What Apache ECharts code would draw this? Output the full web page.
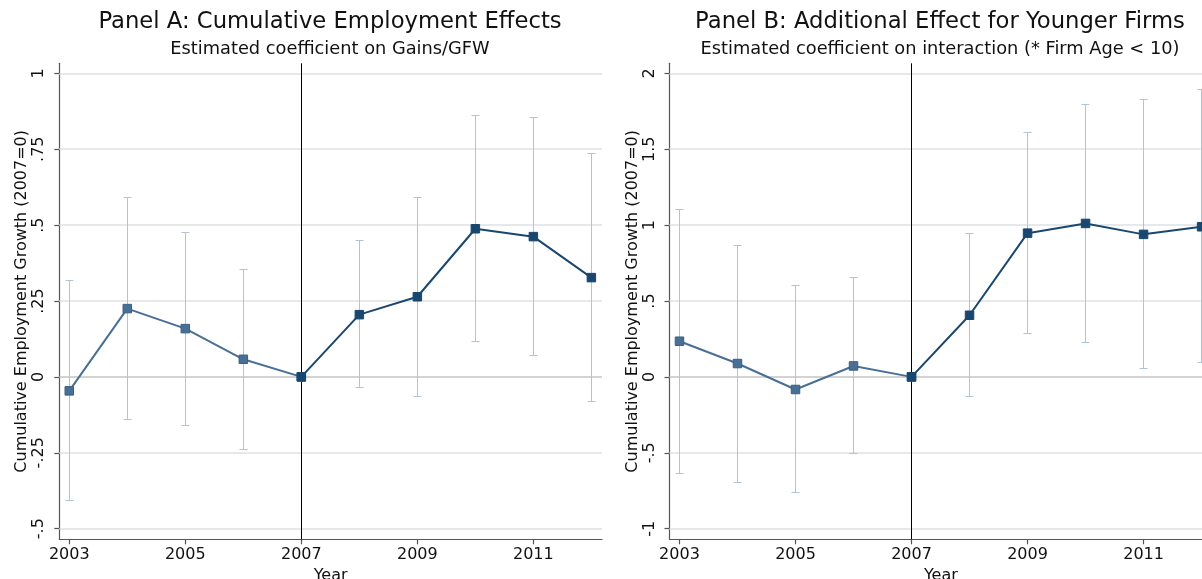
<!DOCTYPE html>
<html>
<head>
<meta charset="utf-8">
<script src="https://cdn.jsdelivr.net/npm/echarts@6/dist/echarts.min.js"></script>
<style>html,body{margin:0;padding:0;background:#fff;overflow:hidden}#c{width:1216px;height:579px}</style>
</head>
<body>
<div id="c"></div>
<script>
const years = [2003, 2004, 2005, 2006, 2007, 2008, 2009, 2010, 2011, 2012];
const xTicks = [2003, 2005, 2007, 2009, 2011];
const aCoef = [-0.046, 0.225, 0.159, 0.058, 0, 0.205, 0.264, 0.488, 0.462, 0.327];
const aLo = [-0.408, -0.140, -0.159, -0.238, 0, -0.036, -0.063, 0.115, 0.071, -0.080];
const aHi = [0.319, 0.592, 0.476, 0.355, 0, 0.450, 0.592, 0.861, 0.854, 0.735];
const bCoef = [0.235, 0.088, -0.083, 0.072, 0, 0.406, 0.947, 1.011, 0.939, 0.989];
const bLo = [-0.634, -0.695, -0.761, -0.506, 0, -0.132, 0.285, 0.226, 0.053, 0.095];
const bHi = [1.105, 0.868, 0.601, 0.654, 0, 0.943, 1.612, 1.796, 1.829, 1.893];
const aTicks = [-0.5, -0.25, 0, 0.25, 0.5, 0.75, 1];
const bTicks = [-1, -0.5, 0, 0.5, 1, 1.5, 2];
const titleA = 'Panel A: Cumulative Employment Effects';
const subA = 'Estimated coefficient on Gains/GFW';
const titleB = 'Panel B: Additional Effect for Younger Firms';
const subB = 'Estimated coefficient on interaction (* Firm Age < 10)';
const yName = 'Cumulative Employment Growth (2007=0)';
const xName = 'Year';
const eventYear = 2007;

const FONT = 'DejaVu Sans';
const preColor = '#4a6f95';
const postColor = '#1a476f';
const ciColor = '#b3c3d4';
const gridColor = '#dde2e6';

function fmt(v) { return String(v).replace('0.', '.'); }

function makeX(gi) {
  return {
    type: 'value', gridIndex: gi, min: 2002.828, max: 2012.183,
    name: xName, nameLocation: 'middle', nameGap: 21,
    nameTextStyle: { fontFamily: FONT, fontSize: 16, color: '#111' },
    axisLine: { show: true, onZero: false, lineStyle: { color: '#555', width: 1.2 } },
    axisTick: { show: true, length: 5, customValues: xTicks, lineStyle: { color: '#555', width: 1.2 } },
    axisLabel: { customValues: xTicks, fontFamily: FONT, fontSize: 16, color: '#111', margin: 8, formatter: v => String(v) },
    splitLine: { show: false }
  };
}
function makeY(gi, mn, mx, ticks) {
  return {
    type: 'value', gridIndex: gi, min: mn, max: mx,
    name: yName, nameLocation: 'middle', nameGap: 29, nameRotate: 90,
    nameTextStyle: { fontFamily: FONT, fontSize: 16, color: '#111' },
    axisLine: { show: true, onZero: false, lineStyle: { color: '#555', width: 1.2 } },
    axisTick: { show: true, length: 5, customValues: ticks, lineStyle: { color: '#555', width: 1.2 } },
    axisLabel: { customValues: ticks, rotate: 90, fontFamily: FONT, fontSize: 16, color: '#111', margin: 12, formatter: fmt },
    splitLine: { show: false }
  };
}
function snap(v) { return Math.round(v - 0.5) + 0.5; }
function ciSeries(gi, lo, hi, ticks) {
  const grid = ticks.filter(t => t !== 0).map(t => ({ yAxis: t, lineStyle: { color: gridColor, width: 1.5, type: 'solid' } }));
  grid.push({ yAxis: 0, lineStyle: { color: '#c4c4c4', width: 1.5, type: 'solid' } });
  grid.push({ xAxis: eventYear, lineStyle: { color: '#000', width: 1, type: 'solid' } });
  return {
    type: 'custom', xAxisIndex: gi, yAxisIndex: gi, z: 2, silent: true,
    data: years.map((y, i) => [y, lo[i], hi[i]]),
    renderItem: function (params, api) {
      const x = api.value(0), l = api.value(1), h = api.value(2);
      if (l === h) return null;
      const p1 = api.coord([x, h]), p2 = api.coord([x, l]);
      const px = snap(p1[0]), y1 = snap(p1[1]), y2 = snap(p2[1]);
      const c = 4, st = { stroke: ciColor, lineWidth: 1 };
      return { type: 'group', children: [
        { type: 'line', shape: { x1: px, y1: y1, x2: px, y2: y2 }, style: st },
        { type: 'line', shape: { x1: px - c, y1: y1, x2: px + c, y2: y1 }, style: st },
        { type: 'line', shape: { x1: px - c, y1: y2, x2: px + c, y2: y2 }, style: st }
      ] };
    },
    markLine: { silent: true, z: 1, symbol: 'none', label: { show: false }, animation: false, data: grid }
  };
}
function lineSeries(gi, coef, pre) {
  const idx = years.map((y, i) => i).filter(i => pre ? years[i] <= eventYear : years[i] >= eventYear);
  const col = pre ? preColor : postColor;
  return {
    type: 'line', xAxisIndex: gi, yAxisIndex: gi, z: pre ? 10 : 11,
    data: idx.map(i => [years[i], coef[i]]),
    symbol: 'rect', symbolSize: 8.5, showSymbol: true,
    lineStyle: { color: col, width: 2 },
    itemStyle: { color: col, borderColor: pre ? '#365f87' : postColor, borderWidth: 1 },
    clip: false, animation: false
  };
}

const chart = echarts.init(document.getElementById('c'), null, { renderer: 'canvas' });
chart.setOption({
  backgroundColor: '#fff',
  animation: false,
  grid: [
    { left: 59.3, top: 63.3, width: 542.7, height: 476, containLabel: false, outerBoundsMode: 'none' },
    { left: 669.5, top: 63.3, width: 542.7, height: 476, containLabel: false, outerBoundsMode: 'none' }
  ],
  xAxis: [makeX(0), makeX(1)],
  yAxis: [makeY(0, -0.535, 1.033, aTicks), makeY(1, -1.07, 2.066, bTicks)],
  graphic: [
    { type: 'text', x: 330, y: 22.5, style: { text: titleA, font: '22.7px "DejaVu Sans"', fill: '#111', textAlign: 'center', textVerticalAlign: 'middle' } },
    { type: 'text', x: 330, y: 49, style: { text: subA, font: '17.8px "DejaVu Sans"', fill: '#111', textAlign: 'center', textVerticalAlign: 'middle' } },
    { type: 'text', x: 940, y: 22.5, style: { text: titleB, font: '22.7px "DejaVu Sans"', fill: '#111', textAlign: 'center', textVerticalAlign: 'middle' } },
    { type: 'text', x: 940, y: 49, style: { text: subB, font: '17.8px "DejaVu Sans"', fill: '#111', textAlign: 'center', textVerticalAlign: 'middle' } }
  ],
  series: [
    ciSeries(0, aLo, aHi, aTicks),
    lineSeries(0, aCoef, true),
    lineSeries(0, aCoef, false),
    ciSeries(1, bLo, bHi, bTicks),
    lineSeries(1, bCoef, true),
    lineSeries(1, bCoef, false)
  ]
});
</script>
</body>
</html>
